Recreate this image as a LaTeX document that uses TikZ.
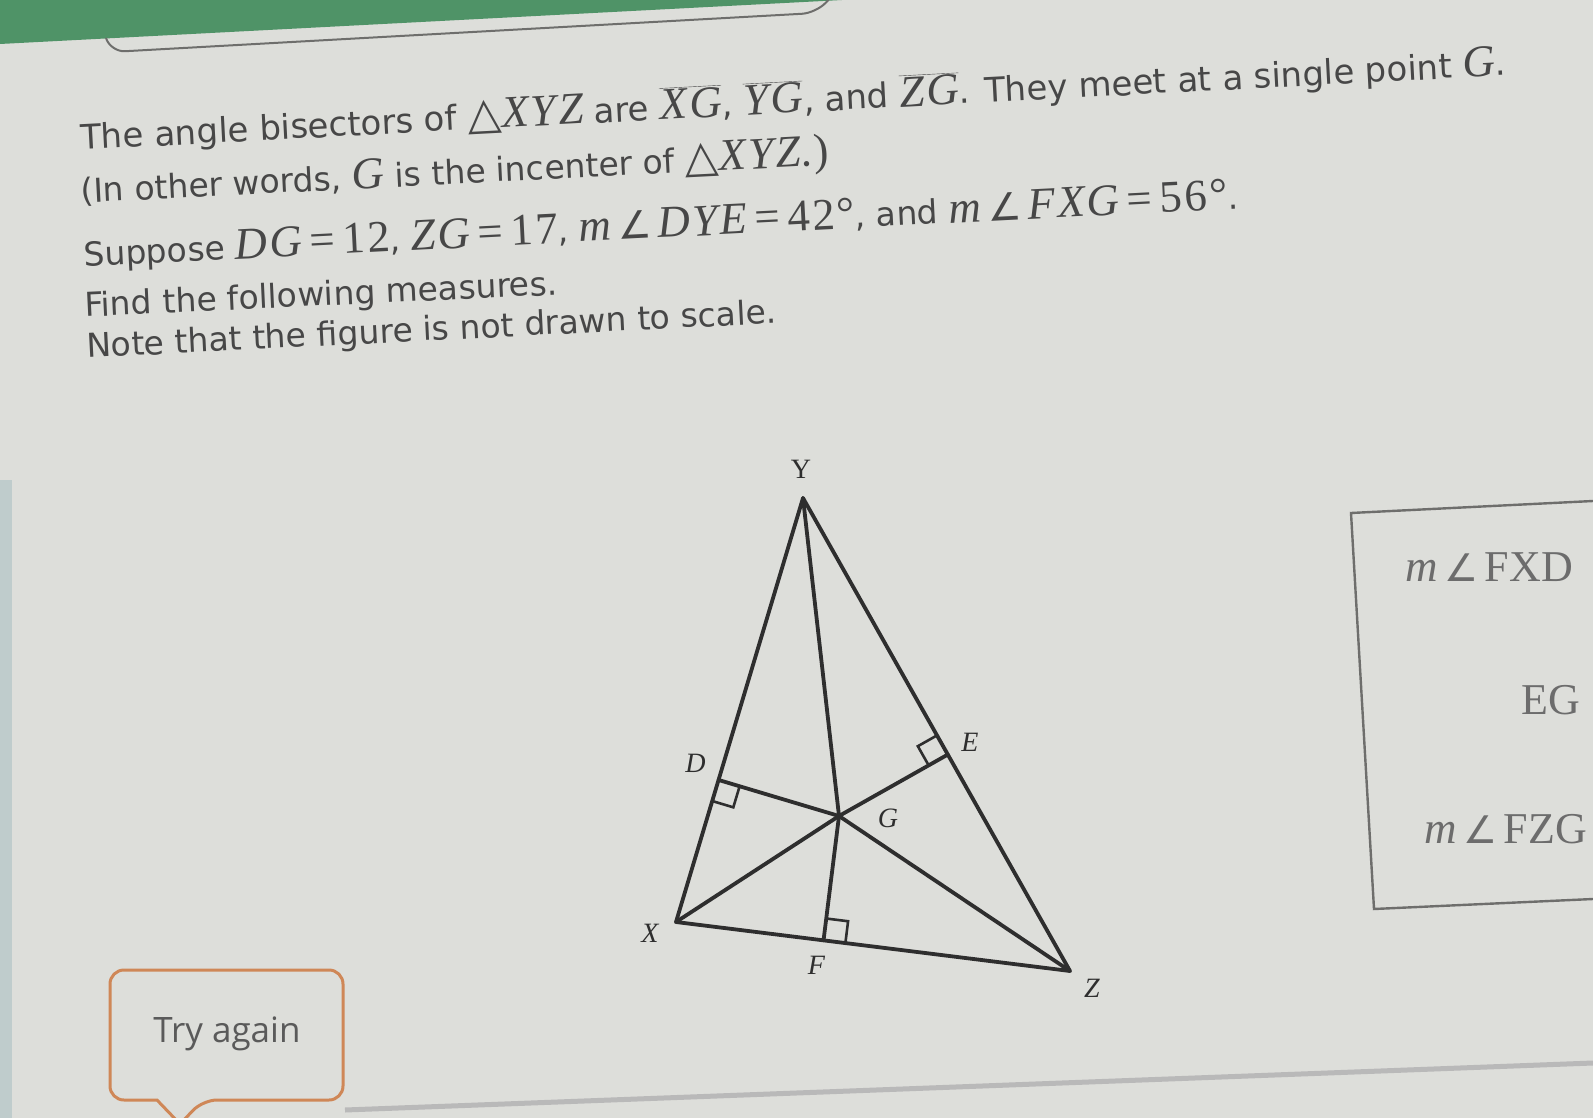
\documentclass[tikz,border=0pt]{standalone}
\usepackage{fontspec}
\setmainfont{DejaVu Sans}
\newfontfamily\serif{Liberation Serif}
\newfontfamily\mserif{Liberation Serif}[LetterSpace=5]
\newfontfamily\symb{DejaVu Sans}
\newfontfamily\btnfont{Open Sans}
\usetikzlibrary{calc}
\definecolor{paper}{HTML}{DDDEDA}
\definecolor{ink}{HTML}{474747}
\definecolor{edge}{HTML}{2E2E2E}
\definecolor{tabgreen}{HTML}{4F9367}
\definecolor{btnorange}{HTML}{CF8757}
\definecolor{frame}{HTML}{6E6E6C}
\newcommand{\mth}[1]{{\mserif\fontsize{45}{48}\selectfont #1}}
\newcommand{\vx}[1]{\mth{\itshape #1}}
\newcommand{\seg}[1]{$\overline{\hbox{\vx{#1}}}$}
\newcommand{\ang}{{\symb\fontsize{38}{42}\selectfont\,∠\,}}
\newcommand{\tri}{{\symb\fontsize{44}{48}\selectfont △}}
\newcommand{\eq}{\,\upshape=\,}
\begin{document}
\begin{tikzpicture}[x=1pt,y=-1pt,
		txt/.style={anchor=base west,rotate=2.9,inner sep=0pt,text=ink,
			font=\fontsize{33}{38}\selectfont},
		side/.style={draw=edge,line width=3.8pt,line cap=round,line join=round},
		rightmark/.style={draw=edge,line width=2.6pt},
		lbl/.style={text=edge,font=\serif\itshape\fontsize{28}{30}\selectfont},
		answer/.style={anchor=base east,inner sep=0pt,text=ink!80,
			font=\serif\fontsize{44}{48}\selectfont}
	]
	% page
	\fill[paper] (0,0) rectangle (1593,1118);
	\useasboundingbox (0,0) rectangle (1593,1118);
	\fill[tabgreen] (0,0) -- (842,0) -- (0,44) -- cycle;
	\draw[frame,line width=2pt,rounded corners=14pt] (106,38) -- (111,52) -- (816,13) -- (834,-6);
	\fill[gray!75!teal!40] (0,480) rectangle (12,1118);
	\draw[gray!55,line width=5pt] (345,1110) -- (1593,1063);

	% question text
	\node[txt,rotate=0.1,font=\fontsize{34}{38}\selectfont] (line1) at (81,150) {The angle bisectors of \tri\vx{XYZ} are \seg{XG}, \seg{YG}, and \seg{ZG}. They meet at a single point \vx{G}.};
	\node[txt] (line2) at (81,203) {(In other words, \vx{G} is the incenter of \tri\vx{XYZ}\mth{.)}};
	\node[txt] (line3) at (84,267) {Suppose \vx{DG\eq 12}, \vx{ZG\eq 17}, \vx{m}\ang\vx{DYE\eq 42°}, and \vx{m}\ang\vx{FXG\eq 56°}.};
	\node[txt,rotate=-0.2] (line4) at (85,317) {Find the following measures.};
	\node[txt] (line5) at (87,358) {Note that the figure is not drawn to scale.};

	% triangle
	\coordinate (X) at (676,922);
	\coordinate (Y) at (803,498);
	\coordinate (Z) at (1070,971);
	\coordinate (G) at (839,816);
	\coordinate (D) at ($(X)!(G)!(Y)$);
	\coordinate (E) at ($(Y)!(G)!(Z)$);
	\coordinate (F) at ($(X)!(G)!(Z)$);
	\draw[side] (X) -- (Y) -- (Z) -- cycle;
	\draw[side] (X) -- (G) (Y) -- (G) (Z) -- (G);
	\draw[side] (D) -- (G) (E) -- (G) (F) -- (G);
	\foreach \p/\s in {D/X,E/Y,F/Z}
		\draw[rightmark] ($(\p)!22pt!(\s)$) -- ($(\p)!22pt!(\s)+(\p)!22pt!(G)-(\p)$) -- ($(\p)!22pt!(G)$);
	\node[lbl,font=\serif\fontsize{28}{30}\selectfont] (labY) at ($(Y)+(-2,-29)$) {Y};
	\node[lbl] (labD) at ($(D)+(-23,-17)$) {D};
	\node[lbl] (labE) at ($(E)+(22,-12)$) {E};
	\node[lbl] (labG) at ($(G)+(49,2)$) {G};
	\node[lbl] (labX) at ($(X)+(-26,11)$) {X};
	\node[lbl] (labF) at ($(F)+(-7,25)$) {F};
	\node[lbl] (labZ) at ($(Z)+(22,17)$) {Z};

	% answer panel
	\draw[frame,line width=2.4pt] (1593,501) -- (1351,513) -- (1374,909) -- (1593,899);
	\node[answer] (qFXD) at (1573,581) {\vx{m}\ang FXD};
	\node[answer] (qEG) at (1580,714) {EG};
	\node[answer] (qFZG) at (1587,843) {\vx{m}\ang FZG};

	% feedback button
	\draw[btnorange,line width=3pt,rounded corners=14pt]
		(110,970) -- (343,970) -- (343,1100) -- (203,1100)
		[sharp corners] -- (180,1124) -- (157,1100) [rounded corners=14pt] -- (110,1100) -- cycle;
	\node[text=ink!90,font=\btnfont\fontsize{35}{40}\selectfont] (retry) at (227,1034) {Try again};
\end{tikzpicture}
\end{document}
